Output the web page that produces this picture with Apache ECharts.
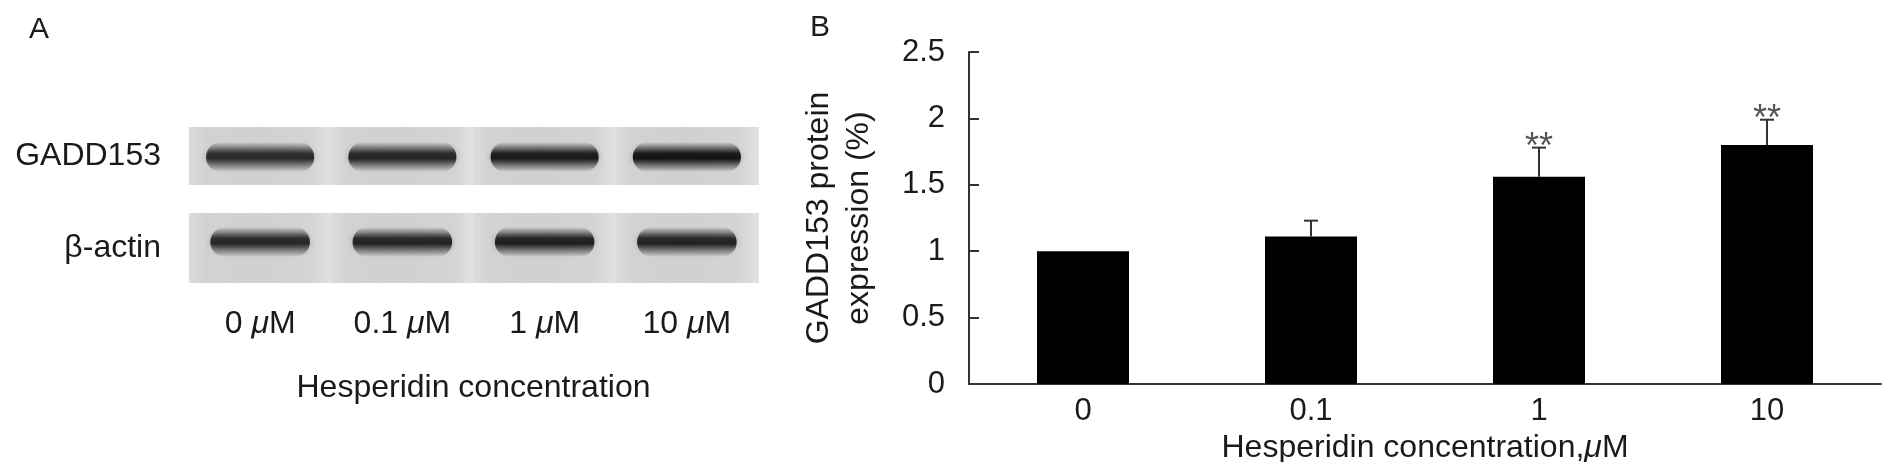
<!DOCTYPE html>
<html>
<head>
<meta charset="utf-8">
<script src="https://cdn.jsdelivr.net/npm/echarts@6/dist/echarts.min.js"></script>
<style>
  html, body { margin: 0; padding: 0; background: #fff; }
  #main { width: 1895px; height: 462px; }
</style>
</head>
<body>
<div id="main"></div>
<script>
// panel A: blot lanes and band darkness (0..1)
const lanes = ['0', '0.1', '1', '10'];
const proteins = ['GADD153', 'β-actin'];
const gaddBand = [0.86, 0.89, 0.96, 1.0];
const actinBand = [0.88, 0.9, 0.93, 0.91];

// panel B: bar chart
const doses = ['0', '0.1', '1', '10'];
const expression = [1.0, 1.11, 1.56, 1.80];
const sem = [0, 0.12, 0.22, 0.19];
const signif = ['', '', '**', '**'];

const font = 'Liberation Sans, Arial, sans-serif';
const ink = '#1a1a1a';

let blotData = [];
lanes.forEach((l, i) => {
    blotData.push([i, 0, gaddBand[i]]);
    blotData.push([i, 1, actinBand[i]]);
});

function shade(a) {
    return 'rgba(20,20,20,' + a.toFixed(3) + ')';
}

function renderBlot(params, api) {
    const row = api.value(1);
    const dark = api.value(2);
    const c = api.coord([api.value(0), row]);
    const s = api.size([1, 1]);
    const w = s[0];
    const top = row === 0 ? c[1] - 29 : c[1] - 35;
    const ht = row === 0 ? 58 : 70;
    const bw = row === 0 ? w * 0.76 : w * 0.70;
    const bh = 30;
    const cy = row === 0 ? c[1] + 1 : c[1] - 6;
    return {
        type: 'group',
        children: [
            { type: 'rect', shape: { x: c[0] - w / 2, y: top, width: w + 1, height: ht },
              style: { fill: { type: 'linear', x: 0, y: 0, x2: 1, y2: 0, colorStops: [
                  { offset: 0, color: '#dcdcdc' }, { offset: 0.12, color: '#d2d2d2' },
                  { offset: 0.5, color: '#d0d0d0' }, { offset: 0.85, color: '#d4d4d4' },
                  { offset: 1, color: '#e2e2e2' } ] } } },
            { type: 'rect', shape: { x: c[0] - bw / 2, y: cy - bh / 2, width: bw, height: bh, r: bh / 2 },
              style: {
                  fill: { type: 'linear', x: 0, y: 0, x2: 0, y2: 1, colorStops: [
                      { offset: 0, color: shade(0) }, { offset: 0.2, color: shade(dark * 0.45) },
                      { offset: 0.38, color: shade(dark * 0.95) }, { offset: 0.55, color: shade(dark) },
                      { offset: 0.75, color: shade(dark * 0.5) }, { offset: 1, color: shade(0) } ] },
                  shadowBlur: 6, shadowColor: shade(0.25)
              } }
        ]
    };
}

function renderErr(params, api) {
    const i = api.value(0);
    const v = api.value(1);
    const e = sem[i];
    const base = api.coord([i, v]);
    const top = api.coord([i, v + e]);
    const children = [];
    if (e > 0) {
        children.push({ type: 'line', shape: { x1: base[0], y1: base[1], x2: top[0], y2: top[1] },
            style: { stroke: '#333', lineWidth: 2 } });
        children.push({ type: 'line', shape: { x1: top[0] - 7, y1: top[1], x2: top[0] + 7, y2: top[1] },
            style: { stroke: '#333', lineWidth: 2 } });
    }
    if (signif[i]) {
        children.push({ type: 'text', x: top[0], y: top[1],
            style: { text: signif[i], fontSize: 36, fontFamily: font, fill: '#555',
                     align: 'center', verticalAlign: 'middle' } });
    }
    return { type: 'group', children: children };
}

const chart = echarts.init(document.getElementById('main'));
chart.setOption({
    animation: false,
    backgroundColor: '#fff',
    title: [
        { text: 'A', left: 24, top: 10, textStyle: { fontSize: 30, fontWeight: 'normal', fontFamily: font, color: ink } },
        { text: 'B', left: 805, top: 8, textStyle: { fontSize: 30, fontWeight: 'normal', fontFamily: font, color: ink } }
    ],
    grid: [
        { left: 189, top: 110, width: 569, height: 184, outerBoundsMode: 'none' },
        { left: 969, top: 52, width: 912, height: 332, outerBoundsMode: 'none' }
    ],
    xAxis: [
        {
            gridIndex: 0, type: 'category', data: lanes,
            axisLine: { show: false }, axisTick: { show: false },
            axisLabel: {
                margin: 14,
                formatter: v => '{n|' + v + ' }{i|μ}{n|M}',
                rich: {
                    n: { fontSize: 32, fontFamily: font, color: ink },
                    i: { fontSize: 32, fontFamily: font, color: ink, fontStyle: 'italic' }
                }
            },
            name: 'Hesperidin concentration', nameLocation: 'middle', nameGap: 78,
            nameTextStyle: { fontSize: 32, fontFamily: font, color: ink }
        },
        {
            gridIndex: 1, type: 'category', data: doses,
            axisLine: { lineStyle: { color: '#333', width: 2 } },
            axisTick: { inside: true, length: 10, lineStyle: { color: '#333', width: 2 } },
            axisLabel: { margin: 12, fontSize: 31, fontFamily: font, color: ink },
            name: '{n|Hesperidin concentration,}{i|μ}{n|M}', nameLocation: 'middle', nameGap: 39,
            nameTextStyle: {
                rich: {
                    n: { fontSize: 32, fontFamily: font, color: ink },
                    i: { fontSize: 32, fontFamily: font, color: ink, fontStyle: 'italic' }
                }
            }
        }
    ],
    yAxis: [
        {
            gridIndex: 0, type: 'category', data: proteins, inverse: true,
            axisLine: { show: false }, axisTick: { show: false }, splitLine: { show: false },
            axisLabel: { margin: 28, fontSize: 32, fontFamily: font, color: ink }
        },
        {
            gridIndex: 1, type: 'value', min: 0, max: 2.5, interval: 0.5,
            axisLine: { show: true, lineStyle: { color: '#333', width: 2 } },
            axisTick: { show: true, inside: true, length: 10, lineStyle: { color: '#333', width: 2 } },
            splitLine: { show: false },
            axisLabel: { margin: 24, fontSize: 31, fontFamily: font, color: ink },
            name: 'GADD153 protein\nexpression (%)', nameLocation: 'middle', nameRotate: 90, nameGap: 90,
            nameTextStyle: { fontSize: 32, lineHeight: 40, fontFamily: font, color: ink }
        }
    ],
    series: [
        {
            type: 'custom', xAxisIndex: 0, yAxisIndex: 0,
            renderItem: renderBlot, data: blotData, silent: true
        },
        {
            type: 'bar', xAxisIndex: 1, yAxisIndex: 1,
            data: expression, barWidth: 92,
            itemStyle: { color: '#000' }
        },
        {
            type: 'custom', xAxisIndex: 1, yAxisIndex: 1, z: 3,
            renderItem: renderErr, data: expression.map((v, i) => [i, v]), silent: true
        }
    ]
});
</script>
</body>
</html>
